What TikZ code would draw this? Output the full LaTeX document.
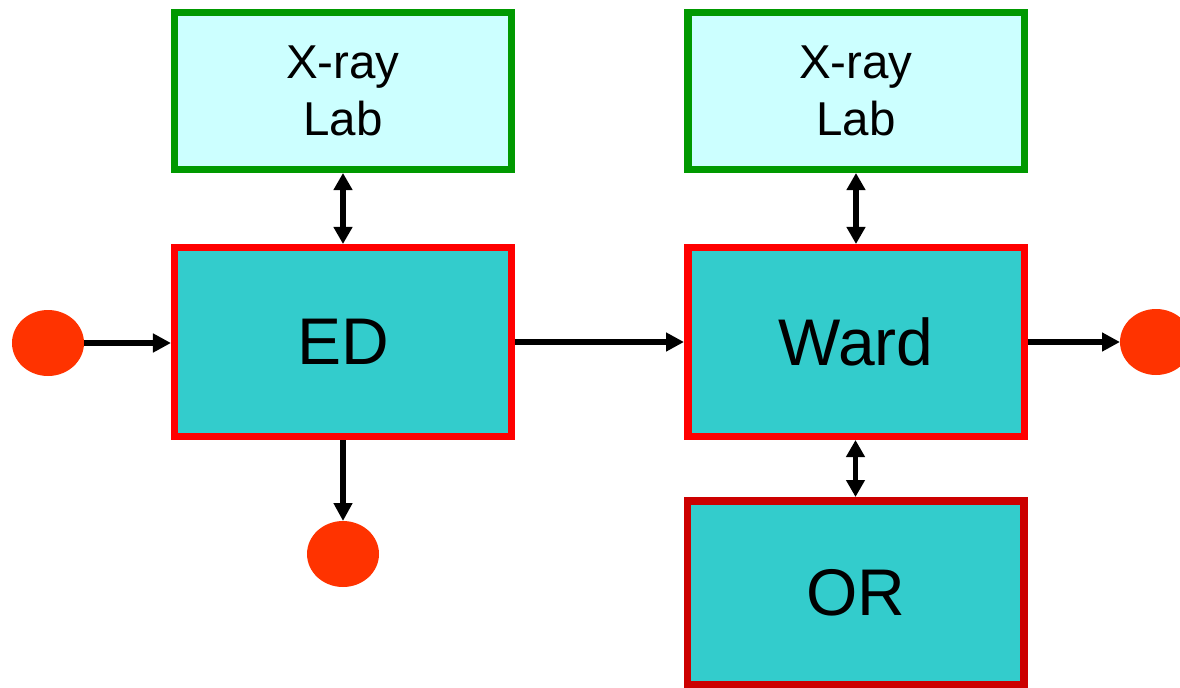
\documentclass[tikz,border=0pt]{standalone}
\usepackage{fontspec}
\setmainfont{Liberation Sans}
\usetikzlibrary{shapes.geometric,arrows.meta}
\definecolor{boxcyan}{HTML}{33CCCC}
\definecolor{labcyan}{HTML}{CCFFFF}
\definecolor{labgreen}{HTML}{009900}
\definecolor{boxred}{HTML}{FF0000}
\definecolor{ordred}{HTML}{CC0000}
\definecolor{dotred}{HTML}{FF3300}
\tikzset{
  labbox/.style={rectangle, draw=labgreen, fill=labcyan, line width=7.5bp,
    minimum width=336.5bp, minimum height=156.5bp, inner sep=0pt, align=center,
    font=\fontsize{47.5bp}{57bp}\selectfont},
  unitbox/.style={rectangle, draw=boxred, fill=boxcyan, line width=7.5bp,
    minimum width=336.5bp, minimum height=188.5bp, inner sep=0pt,
    font=\fontsize{66bp}{79bp}\selectfont},
  dot/.style={ellipse, fill=dotred, draw=none, minimum width=72bp,
    minimum height=66bp, inner sep=0pt, outer sep=0pt},
  flow/.style={line width=5.5bp, -{Triangle[length=18bp,width=18bp]}},
  both/.style={line width=5.5bp, {Triangle[length=17bp,width=18bp]}-{Triangle[length=17bp,width=18bp]}}
}
\begin{document}
\begin{tikzpicture}[x=1bp,y=-1bp]
\useasboundingbox (0,0) rectangle (1180,688);
\clip (0,0) rectangle (1180,688);
\node[labbox] (lab1) at (343,91) {X-ray\\Lab};
\node[labbox] (lab2) at (856,91) {X-ray\\Lab};
\node[unitbox] (ed) at (343,342) {ED};
\node[unitbox] (ward) at (856,342) {Ward};
\node[unitbox, draw=ordred, minimum height=183.5bp] (or) at (855.5,592.5) {OR};
\node[dot] (in) at (48,343) {};
\node[dot] (out1) at (343,554) {};
\node[dot] (out2) at (1156,342) {};
\draw[flow] (in) -- (ed.west |- in);
\draw[flow] (ed) -- (ward);
\draw[flow] (ward) -- (out2);
\draw[flow] (ed) -- (out1);
\draw[both] (lab1) -- (ed);
\draw[both] (lab2) -- (ward);
\draw[both] (ward.south -| or.north) -- (or.north);
\end{tikzpicture}
\end{document}
